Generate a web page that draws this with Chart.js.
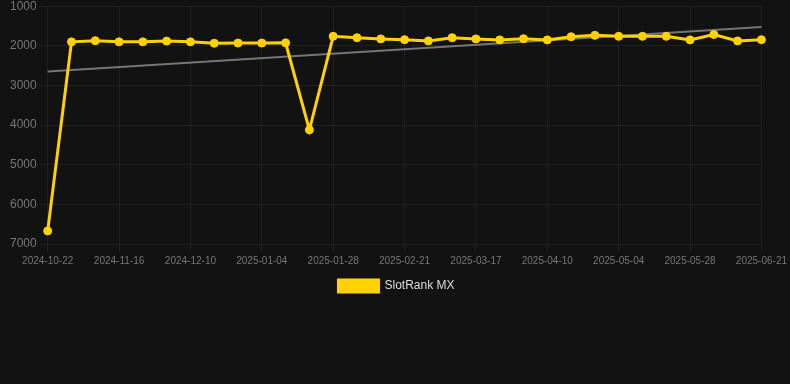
<!DOCTYPE html>
<html>
<head>
<meta charset="utf-8">
<script src="https://cdn.jsdelivr.net/npm/chart.js@4/dist/chart.umd.min.js"></script>
<style>
  html, body { margin: 0; padding: 0; background: #121212; overflow: hidden; }
  #wrap { width: 790px; height: 306px; position: relative; margin-top: -4px; }
</style>
</head>
<body>
<div id="wrap"><canvas id="rankChart"></canvas></div>
<script>
const dates = [
  '2024-10-22', '2024-10-30', '2024-11-07', '2024-11-16', '2024-11-24', '2024-12-02',
  '2024-12-10', '2024-12-18', '2024-12-26', '2025-01-04', '2025-01-12', '2025-01-20',
  '2025-01-28', '2025-02-05', '2025-02-13', '2025-02-21', '2025-03-01', '2025-03-09',
  '2025-03-17', '2025-03-25', '2025-04-02', '2025-04-10', '2025-04-18', '2025-04-26',
  '2025-05-04', '2025-05-12', '2025-05-20', '2025-05-28', '2025-06-05', '2025-06-13',
  '2025-06-21'
];

const rankMX = [
  6670, 1900, 1870, 1900, 1900, 1880, 1900, 1935, 1930, 1930, 1925, 4120,
  1760, 1795, 1825, 1845, 1875, 1795, 1825, 1850, 1820, 1850, 1770, 1735,
  1760, 1760, 1760, 1850, 1715, 1875, 1845
];

// trend line end points
const trendStart = 2645;
const trendEnd = 1525;

const trend = dates.map((d, i) => i === 0 ? trendStart : (i === dates.length - 1 ? trendEnd : null));

new Chart(document.getElementById('rankChart'), {
  type: 'line',
  data: {
    labels: dates,
    datasets: [{
      label: 'SlotRank MX',
      data: rankMX,
      borderColor: '#ffd200',
      backgroundColor: '#ffd200',
      borderWidth: 3,
      pointRadius: 4,
      pointBorderWidth: 1,
      pointHoverRadius: 5,
      tension: 0
    }, {
      label: 'trend',
      data: trend,
      spanGaps: true,
      borderColor: 'rgba(160,160,160,0.7)',
      borderWidth: 2,
      pointRadius: 0,
      fill: false
    }]
  },
  options: {
    responsive: true,
    maintainAspectRatio: false,
    animation: false,
    layout: { padding: { left: 7, right: 4 } },
    scales: {
      x: {
        grid: { color: '#1f1f1f' },
        border: { color: '#1f1f1f' },
        ticks: { color: '#777', font: { size: 10 }, maxRotation: 0, autoSkip: true, maxTicksLimit: 11 }
      },
      y: {
        reverse: true,
        min: 1000,
        max: 7000,
        grid: { color: '#1f1f1f' },
        border: { color: '#1f1f1f' },
        ticks: { color: '#777', font: { size: 12 }, stepSize: 1000, callback: v => String(v) }
      }
    },
    plugins: {
      legend: {
        position: 'bottom',
        labels: {
          color: '#ddd',
          boxWidth: 40,
          boxHeight: 12,
          font: { size: 12 },
          filter: item => item.text !== 'trend'
        }
      },
      tooltip: { enabled: false }
    }
  }
});
</script>
</body>
</html>
